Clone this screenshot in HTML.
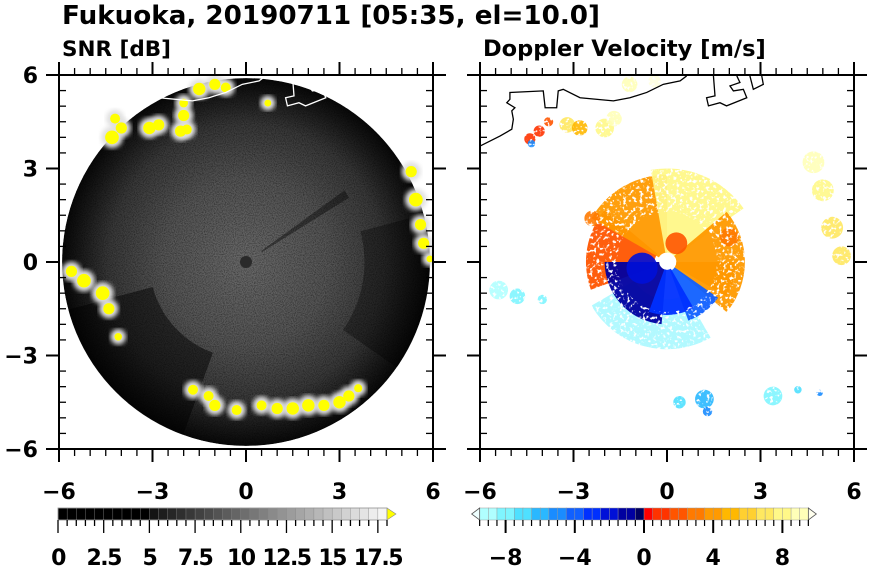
<!DOCTYPE html>
<html><head><meta charset="utf-8"><style>
html,body{margin:0;padding:0;background:#fff;}
svg{display:block;font-family:"DejaVu Sans","Liberation Sans",sans-serif;font-weight:bold;}
</style></head><body>
<svg id="fig" width="870" height="570" viewBox="0 0 870 570" xmlns="http://www.w3.org/2000/svg">
<defs>
<filter id="noise" x="0" y="0" width="100%" height="100%">
<feTurbulence type="fractalNoise" baseFrequency="0.9" numOctaves="2" seed="3" result="t"/>
<feColorMatrix type="matrix" values="0 0 0 0 0  0 0 0 0 0  0 0 0 0 0  0 0 0 -1.6 1.0"/>
</filter>
<filter id="speck" x="0" y="0" width="100%" height="100%">
<feTurbulence type="fractalNoise" baseFrequency="0.3" numOctaves="2" seed="7"/>
<feColorMatrix type="matrix" values="0 0 0 0 1  0 0 0 0 1  0 0 0 0 1  0 0 0 7 -2.1"/>
</filter>
<mask id="speckMask" maskUnits="userSpaceOnUse" x="480" y="75" width="374" height="374">
<rect x="480" y="75" width="374" height="374" fill="#fff" filter="url(#speck)"/>
<circle cx="667" cy="262" r="50" fill="#fff"/>
</mask>
<filter id="blur2"><feGaussianBlur stdDeviation="2.5"/></filter>
<radialGradient id="diskg" cx="0.5" cy="0.5" r="0.5">
<stop offset="0" stop-color="#6a6a6a"/><stop offset="0.45" stop-color="#555"/>
<stop offset="0.75" stop-color="#383838"/><stop offset="0.9" stop-color="#1a1a1a"/><stop offset="1" stop-color="#080808"/>
</radialGradient>
<clipPath id="clipL"><rect x="59" y="75" width="374" height="374"/></clipPath>
<clipPath id="clipDisk"><circle cx="246" cy="262" r="184"/></clipPath>
<clipPath id="clipR"><rect x="480" y="75" width="374" height="374"/></clipPath>
</defs>
<text x="62" y="24" font-size="26.2">Fukuoka, 20190711 [05:35, el=10.0]</text>
<text x="62" y="56" font-size="21.5">SNR [dB]</text>
<text x="483" y="56" font-size="22.5">Doppler Velocity [m/s]</text>
<g id="L"></g>
<g id="R"></g>
<g id="cbL"></g>
<g id="cbR"></g>
</svg>
<script>
// ---- data ----
const axisTicks = [-6, -3, 0, 3, 6];
const axisTickLabels = ['\u22126', '\u22123', '0', '3', '6'];
const radarRangeKm = 5.9;
// coastline (km)
const coastX = [-6,-5.36,-4.98,-4.93,-4.98,-4.88,-5.14,-5.04,-5.04,-3.97,-3.91,-3.54,-3.49,-3.33,-2.79,-1.72,-1.19,-0.65,-0.12,0.42,0.63];
const coastY = [3.72,4.04,4.26,4.58,4.85,4.95,5.11,5.22,5.44,5.49,4.95,4.95,5.49,5.54,5.27,5.17,5.27,5.44,5.70,5.81,5.97];
const islandX = [1.49,1.54,1.27,1.33,1.70,1.91,2.56,2.45,2.13,2.02,2.34,2.24];
const islandY = [5.97,5.33,5.27,5.01,5.11,5.01,5.27,5.54,5.49,5.65,5.76,5.97];
const island2X = [2.66,2.77,3.09,3.04];
const island2Y = [5.97,5.54,5.70,5.97];
// strong SNR echoes (km, radius km)
const echoX = [-1.5,-1.0,-0.65,-2.0,-2.0,-2.1,-1.9,-3.1,-2.8,-4.0,-4.3,-4.2,0.7,5.3,5.45,5.6,5.7,5.9,-5.6,-5.2,-4.6,-4.4,-4.1,-1.7,-1.2,-1.0,-0.3,0.5,1.0,1.5,2.0,2.5,3.0,3.3,3.6];
const echoY = [5.55,5.7,5.6,5.1,4.7,4.2,4.25,4.3,4.4,4.3,4.0,4.6,5.1,2.9,2.0,1.2,0.6,0.1,-0.3,-0.6,-1.0,-1.5,-2.4,-4.1,-4.3,-4.6,-4.75,-4.6,-4.7,-4.7,-4.6,-4.6,-4.5,-4.3,-4.05];
const echoR = [0.2,0.18,0.16,0.14,0.18,0.18,0.16,0.2,0.18,0.18,0.22,0.16,0.11,0.18,0.22,0.18,0.18,0.11,0.18,0.22,0.22,0.18,0.12,0.16,0.16,0.18,0.16,0.16,0.18,0.2,0.2,0.18,0.2,0.18,0.13];
// doppler sectors: start az, end az (deg ccw from east), r0, r1, velocity
const secA0 = [210,330,140,90,35,-40,180,290,250];
const secA1 = [300,360,200,150,100,40,265,325,300];
const secR0 = [1.2,0.3,0.4,0.3,0.3,0.3,0.25,0.3,0.25];
const secR1 = [2.8,2.2,2.6,2.8,3.0,2.5,2.0,2.0,1.7];
const secV  = [-8.5,3,1.5,3.5,7.5,3.5,-1.5,-4,-3];
// doppler blobs
const dopX = [-4.4,-4.1,-3.8,-4.35,-3.2,-2.8,-2.0,-1.7,-1.2,-0.4,4.7,5.0,5.3,5.6,0.4,1.2,1.3,3.4,4.2,4.9,-5.4,-4.8,-4.0,-0.8,0.3,-2.4,2.0];
const dopY = [3.95,4.2,4.5,3.8,4.4,4.3,4.3,4.6,5.7,5.8,3.2,2.3,1.1,0.2,-4.5,-4.4,-4.8,-4.3,-4.1,-4.2,-0.9,-1.1,-1.2,-0.2,0.6,1.4,0.8];
const dopR = [0.18,0.18,0.15,0.12,0.25,0.25,0.3,0.25,0.25,0.2,0.35,0.35,0.35,0.3,0.2,0.3,0.15,0.3,0.12,0.1,0.3,0.25,0.15,0.5,0.35,0.25,0.3];
const dopV = [0.8,1.0,1.5,-5,7,5,8,8.5,9,9.5,9,8,7,6.5,-7,-6,-5,-8.5,-7.5,-5,-9,-8.5,-8,-2,2,3,2.5];
// colorbar
const snrTickVals = [0,2.5,5,7.5,10,12.5,15,17.5];
const snrTickLabels = ['0','2.5','5','7.5','10','12.5','15','17.5'];
const velTickVals = [-8,-4,0,4,8];
const velTickLabels = ['\u22128','\u22124','0','4','8'];

const NS='http://www.w3.org/2000/svg';
function mk(tag, attrs, parent){const e=document.createElementNS(NS,tag);for(const k in attrs)e.setAttribute(k,attrs[k]);parent.appendChild(e);return e;}
const S=374/12;
function sx(cx,x){return cx+x*S;}
function sy(y){return 262+y*-S;}
const CL=246, CR=667;

function velColor(v){
  const neg=['#ddffff','#b0ffff','#7ff5ff','#4fe0ff','#2ab8ff','#1a8cff','#1060ff','#0030ff','#0010d8','#0000a0','#000060'];
  const pos=['#ff0000','#ff3300','#ff5500','#ff7a00','#ff9a00','#ffb800','#ffd030','#ffe860','#fff888','#ffffb8','#ffffe0'];
  if(v<0){let i=Math.round((v+10)/10*10);i=Math.max(0,Math.min(10,i));return neg[i];}
  let i=Math.round(v/10*10);i=Math.max(0,Math.min(10,i));return pos[i];
}

function axes(g,x0,cx,name){
  mk('rect',{x:x0,y:75,width:374,height:374,fill:'none',stroke:'#000','stroke-width':2},g);
  for(let k=-12;k<=12;k++){
    const v=k*0.5, px=sx(cx,v), py=sy(v);
    const major=(k%6===0);
    if(major){
      mk('line',{x1:px,y1:449,x2:px,y2:462,stroke:'#000','stroke-width':2},g);
      mk('line',{x1:px,y1:75,x2:px,y2:62,stroke:'#000','stroke-width':2},g);
      mk('line',{x1:x0,y1:py,x2:x0-13,y2:py,stroke:'#000','stroke-width':2},g);
      mk('line',{x1:x0+374,y1:py,x2:x0+387,y2:py,stroke:'#000','stroke-width':2},g);
    } else {
      mk('line',{x1:px,y1:449,x2:px,y2:456,stroke:'#000','stroke-width':1.3},g);
      mk('line',{x1:px,y1:75,x2:px,y2:68,stroke:'#000','stroke-width':1.3},g);
      mk('line',{x1:x0,y1:py,x2:x0+7,y2:py,stroke:'#000','stroke-width':1.3},g);
      mk('line',{x1:x0+374,y1:py,x2:x0+367,y2:py,stroke:'#000','stroke-width':1.3},g);
    }
  }
  axisTicks.forEach((v,i)=>{
    const t=mk('text',{x:sx(cx,v),y:499,'font-size':22,'text-anchor':'middle'},g);
    t.textContent=axisTickLabels[i];
    
    
    if(name==='snr'){
      const u=mk('text',{x:38,y:sy(v)+8,'font-size':22,'text-anchor':'end'},g);
      u.textContent=axisTickLabels[i];
      
      
    }
  });
}
function polyPts(cx,X,Y){return X.map((x,i)=>sx(cx,x)+','+sy(Y[i])).join(' ');}
function wedge(cx,a0,a1,r0,r1){
  const p=(a,r)=>[sx(cx,r*Math.cos(a*Math.PI/180)),sy(r*Math.sin(a*Math.PI/180))];
  const [x0,y0]=p(a0,r1),[x1,y1]=p(a1,r1),[x2,y2]=p(a1,r0),[x3,y3]=p(a0,r0);
  const lg=(a1-a0)>180?1:0;
  return `M${x0},${y0} A${r1*S},${r1*S} 0 ${lg} 0 ${x1},${y1} L${x2},${y2} A${r0*S},${r0*S} 0 ${lg} 1 ${x3},${y3} Z`;
}

// ---- left SNR ----
const L=document.getElementById('L');
const lc=mk('g',{'clip-path':'url(#clipL)'},L);
const dg=mk('g',{'clip-path':'url(#clipDisk)'},lc);
const disk=mk('circle',{cx:CL,cy:262,r:radarRangeKm*S,fill:'url(#diskg)'},dg);


const nz=mk('rect',{x:60,y:76,width:372,height:372,fill:'#000',filter:'url(#noise)',opacity:0.6},dg);


const dk1=mk('path',{d:wedge(CL,195,250,3.1,5.95),fill:'#000',opacity:0.5},dg);


const dk2=mk('path',{d:wedge(CL,32,36,0.6,3.9),fill:'#000',opacity:0.4},dg);


const dk3=mk('path',{d:wedge(CL,-35,15,3.8,5.95),fill:'#000',opacity:0.35},dg);


const cdot=mk('circle',{cx:CL,cy:262,r:6,fill:'#2a2a2a'},dg);


echoX.forEach((x,i)=>{
  const h=mk('circle',{cx:sx(CL,x),cy:sy(echoY[i]),r:echoR[i]*S+4,fill:'#e0e0e0',filter:'url(#blur2)'},lc);
  
  
});
echoX.forEach((x,i)=>{
  const c=mk('circle',{cx:sx(CL,x),cy:sy(echoY[i]),r:echoR[i]*S,fill:'#ffff00'},lc);
  
  
});
[[coastX,coastY],[islandX,islandY],[island2X,island2Y]].forEach(([X,Y])=>{
  const pl=mk('polyline',{points:polyPts(CL,X,Y),fill:'none',stroke:'#fff','stroke-width':1.3},lc);
  
  
});
axes(L,59,CL,'snr');

// ---- right doppler ----
const R=document.getElementById('R');
const rc=mk('g',{'clip-path':'url(#clipR)'},R);
const sg=mk('g',{mask:'url(#speckMask)'},rc);
secA0.forEach((a0,i)=>{
  const p=mk('path',{d:wedge(CR,a0,secA1[i],secR0[i],secR1[i]),fill:velColor(secV[i]),opacity:secV[i]<-8?0.6:0.95},sg);
  
  
});
dopX.forEach((x,i)=>{
  const c=mk('circle',{cx:sx(CR,x),cy:sy(dopY[i]),r:dopR[i]*S,fill:velColor(dopV[i]),opacity:0.9},sg);
  
  
});
const wd=mk('circle',{cx:CR,cy:262,r:7,fill:'#fff'},rc);


[[coastX,coastY],[islandX,islandY],[island2X,island2Y]].forEach(([X,Y])=>{
  const pl=mk('polyline',{points:polyPts(CR,X,Y),fill:'none',stroke:'#000','stroke-width':1.3},rc);
  
  
});
axes(R,480,CR,'doppler');

// ---- colorbars ----
const cbL=document.getElementById('cbL');
const snrX=v=>58+v*(329/18);
for(let k=0;k<36;k++){
  const v=k*0.5;
  let g=v<5?0:Math.round((v-5)/13*235+20);g=Math.min(245,g);
  mk('rect',{x:snrX(v),y:508,width:329/36+0.3,height:12,fill:`rgb(${g},${g},${g})`,stroke:'#888','stroke-width':0.4},cbL);
}
mk('polygon',{points:`${snrX(18)},508 ${snrX(18)+9},514 ${snrX(18)},520`,fill:'#ffff00',stroke:'#888','stroke-width':0.6},cbL);
mk('rect',{x:58,y:508,width:329,height:12,fill:'none',stroke:'#999','stroke-width':0.8},cbL);
for(let k=0;k<=36;k++){const px=snrX(k*0.5);mk('line',{x1:px,y1:520,x2:px,y2:k%5===0?533:526,stroke:'#000','stroke-width':1.3},cbL);}
snrTickVals.forEach((v,i)=>{
  const t=mk('text',{x:snrX(v),y:565,'font-size':22,'text-anchor':'middle','letter-spacing':'-1.5'},cbL);
  t.textContent=snrTickLabels[i];
  
  
});
const cbR=document.getElementById('cbR');
const velX=v=>644+v*17.3;
for(let k=0;k<38;k++){
  const v=-9.5+k*0.5;
  mk('rect',{x:velX(v),y:508,width:8.95,height:12,fill:velColor(v+0.25),stroke:'#999','stroke-width':0.5},cbR);
}
mk('polygon',{points:`${velX(-9.5)},508 ${velX(-9.5)-8},514 ${velX(-9.5)},520`,fill:'#eeffff',stroke:'#555','stroke-width':0.8},cbR);
mk('polygon',{points:`${velX(9.5)},508 ${velX(9.5)+8},514 ${velX(9.5)},520`,fill:'#ffffee',stroke:'#555','stroke-width':0.8},cbR);
for(let k=0;k<=38;k++){const v=-9.5+k*0.5;const px=velX(v);const maj=Math.abs(v%4)<1e-6;mk('line',{x1:px,y1:520,x2:px,y2:maj?533:526,stroke:'#000','stroke-width':maj?2:1.2},cbR);}
velTickVals.forEach((v,i)=>{
  const t=mk('text',{x:velX(v),y:565,'font-size':22,'text-anchor':'middle'},cbR);
  t.textContent=velTickLabels[i];
  
  
});
</script>
</body></html>
